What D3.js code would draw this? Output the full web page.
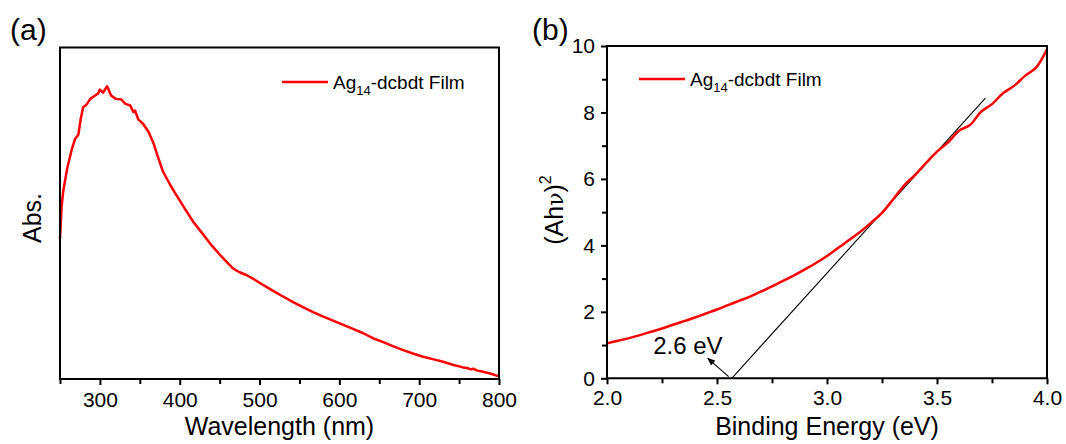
<!DOCTYPE html>
<html>
<head>
<meta charset="utf-8">
<script src="https://cdn.jsdelivr.net/npm/d3@7"></script>
<style>
  html, body { margin: 0; padding: 0; background: #fff; }
  svg { display: block; }
  text { font-family: "Liberation Sans", Arial, Helvetica, sans-serif; fill: #000; }
</style>
</head>
<body>
<svg id="chart" width="1066" height="444"></svg>
<script>
// ---- Panel (a): absorption spectrum of the film ----
const wavelength = [250,252,254,256,259,262,265,269,273,276,279,283,288,294,298,300,304,309,314,320,327,332,338,342,344,348,354,361,367,373,379,388,396,405,417,430,440,451,460,467,475,484,495,505,517,530,542,555,567,580,592,605,617,630,642,655,667,680,692,705,717,730,742,755,760,765,768,772,780,790,800];
const absorbance = [0.424,0.52,0.565,0.594,0.635,0.665,0.695,0.725,0.737,0.785,0.820,0.827,0.845,0.855,0.862,0.873,0.864,0.883,0.855,0.845,0.843,0.830,0.825,0.805,0.810,0.783,0.770,0.745,0.712,0.668,0.626,0.586,0.554,0.519,0.474,0.434,0.403,0.373,0.350,0.333,0.322,0.313,0.298,0.283,0.266,0.248,0.232,0.216,0.202,0.188,0.176,0.163,0.151,0.138,0.123,0.111,0.099,0.087,0.077,0.067,0.060,0.052,0.043,0.035,0.033,0.029,0.031,0.026,0.022,0.016,0.008];
const wlTicks = [300,400,500,600,700,800];
const wlMinor = [250,350,450,550,650,750];

// ---- Panel (b): Tauc plot with tangent extrapolation ----
const energy = [2.00,2.05,2.10,2.15,2.20,2.25,2.30,2.35,2.40,2.45,2.50,2.55,2.60,2.65,2.70,2.75,2.80,2.85,2.90,2.95,3.00,3.05,3.10,3.15,3.20,3.25,3.30,3.35,3.40,3.45,3.50,3.55,3.60,3.65,3.70,3.75,3.80,3.85,3.90,3.95,4.00];
const tauc = [1.05,1.13,1.21,1.30,1.40,1.50,1.61,1.72,1.83,1.95,2.07,2.20,2.33,2.46,2.61,2.77,2.93,3.10,3.28,3.47,3.68,3.92,4.16,4.40,4.68,4.98,5.38,5.80,6.12,6.48,6.82,7.10,7.45,7.62,8.02,8.25,8.58,8.80,9.10,9.35,9.90];
const tangentX = [2.567, 3.72];
const tangentY = [0, 8.43];
const gapLabel = "2.6 eV";
const arrowFrom = [2.553, 0.05];
const arrowTo = [2.458, 0.60];
const eTicks = [2.0,2.5,3.0,3.5,4.0];
const eMinor = [2.25,2.75,3.25,3.75];
const tTicks = [0,2,4,6,8,10];
const tMinor = [1,3,5,7,9];

const seriesName = { main: "Ag", sub: "14", rest: "-dcbdt Film" };
const RED = "#ff0000";

const svg = d3.select("#chart");

svg.append("defs").append("marker")
  .attr("id", "arrowhead")
  .attr("viewBox", "0 0 10 10")
  .attr("refX", 9).attr("refY", 5)
  .attr("markerWidth", 8).attr("markerHeight", 8)
  .attr("markerUnits", "userSpaceOnUse")
  .attr("orient", "auto")
  .append("path").attr("d", "M0,1 L10,5 L0,9 Z").attr("fill", "#000");

function frame(g, x, y) {
  const [x0, x1] = x.range(), [y0, y1] = y.range();
  g.append("path")
    .attr("d", `M${x0},${y0}V${y1}H${x1}V${y0}Z`)
    .attr("fill", "none").attr("stroke", "#000").attr("stroke-width", 2);
}

function styleAxis(sel) {
  sel.select(".domain").remove();
  sel.selectAll(".tick line").attr("stroke", "#000").attr("stroke-width", 2);
  sel.selectAll(".tick text").attr("font-size", 21)
    .attr("font-family", "'Liberation Sans', Arial, sans-serif").attr("fill", "#000");
}

function legend(g, x0, y0) {
  g.append("line").attr("x1", x0).attr("x2", x0 + 46).attr("y1", y0).attr("y2", y0)
    .attr("stroke", RED).attr("stroke-width", 2.5);
  const t = g.append("text").attr("x", x0 + 51).attr("y", y0 + 7).attr("font-size", 19);
  t.append("tspan").text(seriesName.main);
  t.append("tspan").attr("font-size", 13).attr("dy", 6).text(seriesName.sub);
  t.append("tspan").attr("dy", -6).text(seriesName.rest);
}

// Panel (a)
{
  const x = d3.scaleLinear().domain([250, 800]).range([60, 499]);
  const y = d3.scaleLinear().domain([0, 1]).range([379, 47.5]);
  const g = svg.append("g");

  g.append("g").attr("transform", `translate(0,${y(0)})`)
    .call(d3.axisBottom(x).tickValues(wlMinor).tickSize(5).tickFormat(""))
    .call(styleAxis);
  g.append("g").attr("transform", `translate(0,${y(0)})`)
    .call(d3.axisBottom(x).tickValues(wlTicks).tickSize(6).tickPadding(7).tickFormat(d3.format("d")))
    .call(styleAxis);

  g.append("path")
    .datum(d3.zip(wavelength, absorbance))
    .attr("fill", "none").attr("stroke", RED).attr("stroke-width", 2.5)
    .attr("stroke-linejoin", "round")
    .attr("d", d3.line().x(d => x(d[0])).y(d => y(d[1])));

  frame(g, x, y);
  legend(g, 282, 82);

  g.append("text").attr("x", (x.range()[0] + x.range()[1]) / 2).attr("y", 435)
    .attr("text-anchor", "middle").attr("font-size", 25).text("Wavelength (nm)");
  g.append("text").attr("transform", "translate(41,218) rotate(-90)")
    .attr("text-anchor", "middle").attr("font-size", 25).text("Abs.");
  g.append("text").attr("x", 10).attr("y", 40).attr("font-size", 30).text("(a)");
}

// Panel (b)
{
  const x = d3.scaleLinear().domain([2, 4]).range([607, 1047]);
  const y = d3.scaleLinear().domain([0, 10]).range([378.3, 46]);
  const g = svg.append("g");

  g.append("g").attr("transform", `translate(0,${y(0)})`)
    .call(d3.axisBottom(x).tickValues(eMinor).tickSize(5).tickFormat(""))
    .call(styleAxis);
  g.append("g").attr("transform", `translate(0,${y(0)})`)
    .call(d3.axisBottom(x).tickValues(eTicks).tickSize(6).tickPadding(6).tickFormat(d3.format(".1f")))
    .call(styleAxis);
  g.append("g").attr("transform", `translate(${x(2)},0)`)
    .call(d3.axisLeft(y).tickValues(tMinor).tickSize(5).tickFormat(""))
    .call(styleAxis);
  g.append("g").attr("transform", `translate(${x(2)},0)`)
    .call(d3.axisLeft(y).tickValues(tTicks).tickSize(6).tickPadding(6).tickFormat(d3.format("d")))
    .call(styleAxis);

  g.append("line")
    .attr("x1", x(tangentX[0])).attr("y1", y(tangentY[0]))
    .attr("x2", x(tangentX[1])).attr("y2", y(tangentY[1]))
    .attr("stroke", "#000").attr("stroke-width", 1.1);

  g.append("path")
    .datum(d3.zip(energy, tauc))
    .attr("fill", "none").attr("stroke", RED).attr("stroke-width", 2.5)
    .attr("stroke-linejoin", "round")
    .attr("d", d3.line().curve(d3.curveCatmullRom).x(d => x(d[0])).y(d => y(d[1])));

  g.append("line")
    .attr("x1", x(arrowFrom[0])).attr("y1", y(arrowFrom[1]))
    .attr("x2", x(arrowTo[0])).attr("y2", y(arrowTo[1]))
    .attr("stroke", "#000").attr("stroke-width", 1.1)
    .attr("marker-end", "url(#arrowhead)");

  g.append("text").attr("x", x(2.21)).attr("y", y(0.73))
    .attr("font-size", 24).text(gapLabel);

  frame(g, x, y);
  legend(g, 639, 79);

  g.append("text").attr("x", (x.range()[0] + x.range()[1]) / 2).attr("y", 435)
    .attr("text-anchor", "middle").attr("font-size", 25).text("Binding Energy (eV)");
  const yt = g.append("text").attr("transform", "translate(563,210) rotate(-90)")
    .attr("text-anchor", "middle").attr("font-size", 25);
  yt.append("tspan").text("(Ah");
  yt.append("tspan").attr("font-family", "'DejaVu Serif', serif").attr("font-size", 22).text("ν");
  yt.append("tspan").text(")");
  yt.append("tspan").attr("font-size", 16).attr("dy", -12).text("2");
  g.append("text").attr("x", 532).attr("y", 40).attr("font-size", 30).text("(b)");
}
</script>
</body>
</html>
